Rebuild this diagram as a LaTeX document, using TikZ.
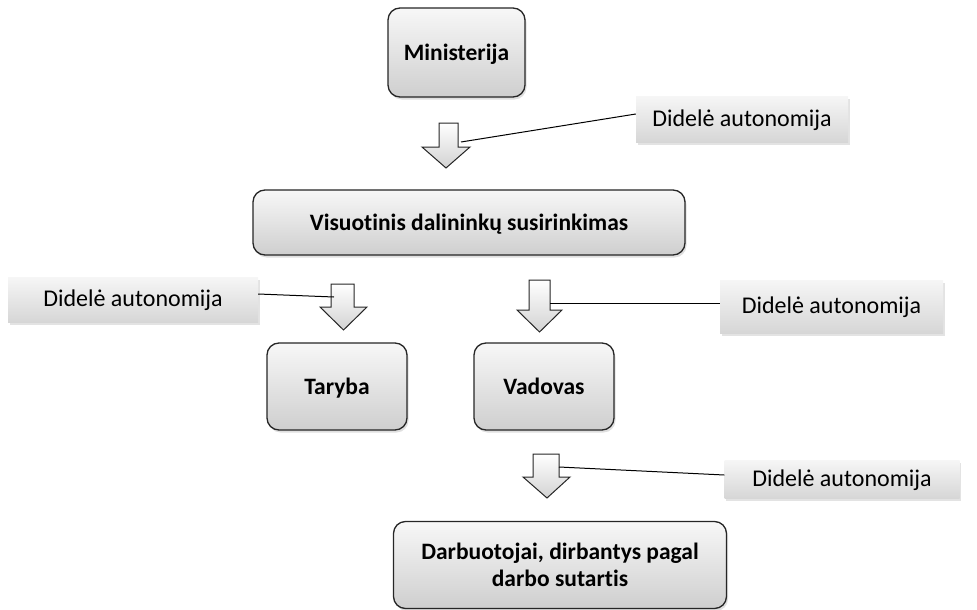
\documentclass[tikz,border=0pt]{standalone}
\usepackage{fontspec}
\setmainfont[Ligatures=NoCommon]{Carlito}
\usetikzlibrary{shadows}
\begin{document}
\begin{tikzpicture}[x=1pt,y=-1pt,
  mainbox/.style={draw=black!85, line width=1.3pt, rounded corners=12pt,
    top color=gray!6, bottom color=gray!38, inner sep=0pt, align=center,
    font=\bfseries\fontsize{23.5}{27}\selectfont,
    drop shadow={opacity=0.25, shadow xshift=1.5pt, shadow yshift=-2.5pt}},
  onerow/.style={text height=15pt, text depth=0pt},
  callout/.style={top color=gray!7, bottom color=gray!32, inner sep=0pt,
    font=\fontsize{24}{28}\selectfont, text height=15pt, text depth=1pt,
    drop shadow={opacity=0.22, shadow xshift=1.5pt, shadow yshift=-3pt}},
  blockarrow/.style={draw=black!85, line width=1pt, line join=miter,
    top color=white, bottom color=gray!35},
  leader/.style={draw=black, line width=1pt}]
\useasboundingbox (0,0) rectangle (977,610);

% main boxes
\node[mainbox, onerow, minimum width=137pt, minimum height=89pt] (min) at (456.5,52.5) {Ministerija};
\node[mainbox, onerow, minimum width=432pt, minimum height=65pt] (vis) at (469,222.5) {Visuotinis dalininkų susirinkimas};
\node[mainbox, onerow, minimum width=140pt, minimum height=87pt] (tar) at (337,386.5) {Taryba};
\node[mainbox, onerow, minimum width=140pt, minimum height=87pt] (vad) at (544,386.5) {Vadovas};
\node[mainbox, minimum width=333pt, minimum height=87pt] (darb) at (560,565) {Darbuotojai, dirbantys pagal\\darbo sutartis};

% block arrows
\path[blockarrow] (439,123) -- (458,123) -- (458,147) -- (470,147) -- (446,168) -- (422,147) -- (439,147) -- cycle;
\coordinate (a1) at (461,142);
\path[blockarrow] (331,284) -- (354,284) -- (354,307) -- (367,307) -- (343.5,330) -- (320,307) -- (331,307) -- cycle;
\coordinate (a2) at (334,297);
\path[blockarrow] (529,280) -- (550,280) -- (550,310) -- (562,310) -- (539.5,332) -- (517,310) -- (529,310) -- cycle;
\coordinate (a3) at (550,303);
\path[blockarrow] (533,454) -- (559,454) -- (559,477) -- (570,477) -- (547,498) -- (523,477) -- (533,477) -- cycle;
\coordinate (a4) at (559,467);

% callouts
\node[callout, minimum width=212pt, minimum height=46pt] (c1) at (742,119) {Didelė autonomija};
\node[callout, minimum width=250pt, minimum height=45pt] (c2) at (133,299.5) {Didelė autonomija};
\node[callout, minimum width=223pt, minimum height=53pt] (c3) at (831.5,306.5) {Didelė autonomija};
\node[callout, minimum width=235pt, minimum height=38pt] (c4) at (842,479) {Didelė autonomija};

% leader lines
\draw[leader] (c1.west |- 0,114) -- (a1);
\draw[leader] (c2.east |- 0,294) -- (a2);
\draw[leader] (c3.west |- 0,303) -- (a3);
\draw[leader] (c4.west |- 0,475) -- (a4);
\end{tikzpicture}
\end{document}
